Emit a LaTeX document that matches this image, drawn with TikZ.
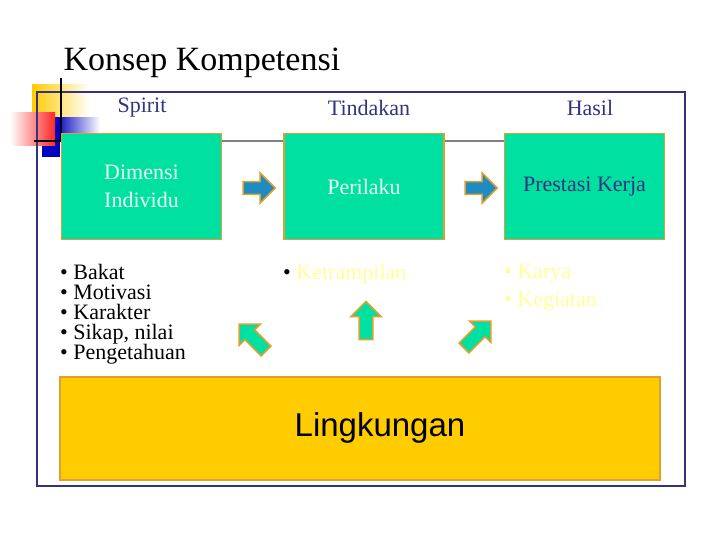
\documentclass[tikz,border=0pt]{standalone}
\usepackage{fontspec}
\setmainfont{Liberation Serif}
\newfontfamily\arialf{Liberation Sans}
\usetikzlibrary{shapes.arrows}
\definecolor{navy}{HTML}{333380}
\definecolor{boxg}{HTML}{00E0A0}
\definecolor{bord}{HTML}{E0A030}
\definecolor{arrb}{HTML}{1E8CC0}
\definecolor{lyel}{HTML}{FFFF99}
\definecolor{gold}{HTML}{FFCC00}
\definecolor{ltxt}{HTML}{E8FFF4}
\tikzset{
 gbox/.style={draw=bord,line width=1.5pt,fill=boxg,minimum width=160pt,minimum height=106pt,align=center,font=\fontsize{22}{28}\selectfont},
 hdr/.style={text=navy,font=\fontsize{22}{24}\selectfont},
 barr/.style={single arrow,draw=bord,fill=arrb,line width=1.5pt,minimum width=30pt,single arrow head extend=5pt,minimum height=32pt,inner sep=3pt},
 garr/.style={single arrow,draw=bord,fill=boxg,line width=1.5pt,minimum width=30pt,single arrow head extend=5pt,minimum height=38pt,inner sep=3.5pt},
 lst/.style={anchor=north west,align=left,font=\fontsize{22}{20}\selectfont,inner sep=0pt}
}
\begin{document}
\begin{tikzpicture}[x=1pt,y=-1pt]
\useasboundingbox (0,0) rectangle (720,540);
% decoration
\shade[left color=gold,right color=white] (32,85) rectangle (90,120);
\shade[left color=blue!75!black,right color=white] (55,118) rectangle (100,135);
\fill[blue!75!black] (42,118) rectangle (60,157);
\shade[left color=white,right color=red!85] (10,113) rectangle (55,146);
\draw[navy,line width=1.5pt] (37,92) rectangle (685,486);
\draw[black,line width=1.5pt] (61,78) -- (61,140);
\draw[black,line width=1.5pt] (34,141) -- (75,141);
\draw[gray,line width=1.5pt] (222,141) -- (504,141);
\node[anchor=base west,font=\fontsize{34}{38}\selectfont] (title) at (60,71) {Konsep Kompetensi};
\node[hdr] (h1) at (142,108) {Spirit};
\node[hdr] (h2) at (369,108) {Tindakan};
\node[hdr] (h3) at (590,108) {Hasil};
\node[gbox,text=ltxt] (b1) at (141.5,186.5) {Dimensi\\Individu};
\node[gbox,text=ltxt] (b2) at (364,186.5) {Perilaku};
\node[gbox,text=navy] (b3) at (584.5,186.5) {Prestasi Kerja};
\node[barr] (a1) at (256,188) {};
\node[barr] (a2) at (478,188) {};
\node[lst] (l1) at (60,264) {\textbullet\ Bakat\\\textbullet\ Motivasi\\\textbullet\ Karakter\\\textbullet\ Sikap, nilai\\\textbullet\ Pengetahuan};
\node[lst] (l2) at (283,264) {\textbullet\ \textcolor{lyel}{Ketrampilan}};
\node[lst,text=lyel] (l3) at (504,264) {\textbullet\ Karya\\[8pt]\textbullet\ Kegiatan};
\node[draw=bord,line width=1.5pt,fill=gold,minimum width=600pt,minimum height=103pt] (env) at (360,428.5) {};
\node[font=\arialf\fontsize{33}{36}\selectfont] (envt) at (380,428) {Lingkungan};
\node[garr,rotate=90] (g2) at (366,324) {};
\node[garr,rotate=135] (g1) at (255,340) {};
\node[garr,rotate=45] (g3) at (475,337) {};
\end{tikzpicture}
\end{document}
